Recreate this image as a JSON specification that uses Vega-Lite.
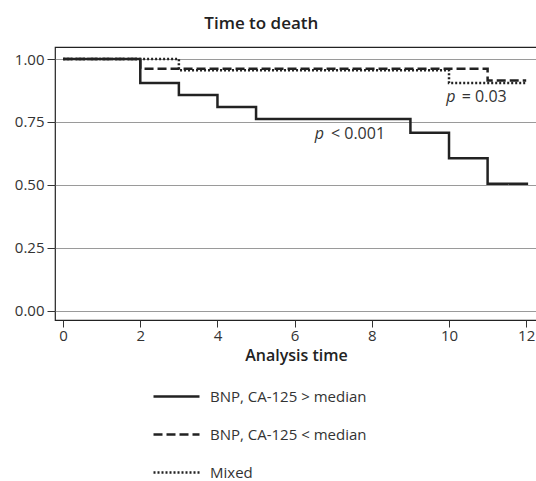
{
  "$schema": "https://vega.github.io/schema/vega-lite/v6.json",
  "autosize": "none",
  "width": 482,
  "height": 273,
  "padding": {"left": 55, "top": 47, "right": 0, "bottom": 161},
  "config": {
    "font": "Open Sans",
    "view": {"stroke": "#222", "strokeWidth": 1.2}
  },
  "title": {
    "text": "Time to death",
    "anchor": "start",
    "dx": 190,
    "offset": 14,
    "fontSize": 17,
    "fontWeight": 600,
    "color": "#222"
  },
  "datasets": {
    "curves": [
      {"group": "BNP, CA-125 < median", "time": 0, "survival": 1.0},
      {"group": "BNP, CA-125 < median", "time": 2, "survival": 0.962},
      {"group": "BNP, CA-125 < median", "time": 11, "survival": 0.915},
      {"group": "BNP, CA-125 < median", "time": 12, "survival": 0.915},
      {"group": "Mixed", "time": 0, "survival": 1.0},
      {"group": "Mixed", "time": 3, "survival": 0.956},
      {"group": "Mixed", "time": 10, "survival": 0.905},
      {"group": "Mixed", "time": 12, "survival": 0.905},
      {"group": "BNP, CA-125 > median", "time": 0, "survival": 1.0},
      {"group": "BNP, CA-125 > median", "time": 2, "survival": 0.905},
      {"group": "BNP, CA-125 > median", "time": 3, "survival": 0.857},
      {"group": "BNP, CA-125 > median", "time": 4, "survival": 0.81},
      {"group": "BNP, CA-125 > median", "time": 5, "survival": 0.762},
      {"group": "BNP, CA-125 > median", "time": 9, "survival": 0.707},
      {"group": "BNP, CA-125 > median", "time": 10, "survival": 0.606},
      {"group": "BNP, CA-125 > median", "time": 11, "survival": 0.505},
      {"group": "BNP, CA-125 > median", "time": 12.05, "survival": 0.505}
    ],
    "one": [{}]
  },
  "encoding": {
    "x": {
      "type": "quantitative",
      "scale": {"domain": [-0.21, 12.28], "nice": false, "zero": false},
      "axis": {
        "title": "Analysis time",
        "values": [0, 2, 4, 6, 8, 10, 12],
        "grid": false,
        "domain": false,
        "tickSize": 7,
        "tickColor": "#333",
        "labelFontSize": 15,
        "labelColor": "#333",
        "labelPadding": 1,
        "titleFontSize": 16,
        "titleFontWeight": 600,
        "titleColor": "#222",
        "titlePadding": 4
      }
    },
    "y": {
      "type": "quantitative",
      "scale": {"domain": [-0.037, 1.048], "nice": false, "zero": false},
      "axis": {
        "title": null,
        "values": [0, 0.25, 0.5, 0.75, 1],
        "format": ".2f",
        "grid": true,
        "gridColor": "#9a9a9a",
        "gridWidth": 1,
        "domain": false,
        "tickSize": 8,
        "tickColor": "#333",
        "labelFontSize": 15,
        "labelColor": "#333",
        "labelPadding": 3
      }
    }
  },
  "layer": [
    {
      "data": {"name": "curves"},
      "mark": {"type": "line", "interpolate": "step-after", "color": "#222", "strokeWidth": 2.5},
      "encoding": {
        "x": {"field": "time", "type": "quantitative"},
        "y": {"field": "survival", "type": "quantitative"},
        "strokeDash": {
          "field": "group",
          "type": "nominal",
          "scale": {
            "domain": ["BNP, CA-125 > median", "BNP, CA-125 < median", "Mixed"],
            "range": [[1, 0], [9, 4], [2, 2]]
          },
          "legend": {
            "title": null,
            "orient": "none",
            "legendX": 97,
            "legendY": 325,
            "direction": "vertical",
            "symbolType": "stroke",
            "symbolSize": 2116,
            "symbolStrokeWidth": 2.5,
            "symbolStrokeColor": "#222",
            "labelFontSize": 15,
            "labelColor": "#333",
            "labelOffset": 9,
            "rowPadding": 5
          }
        }
      }
    },
    {
      "data": {"name": "one"},
      "mark": {"type": "text", "fontStyle": "italic", "fontSize": 16, "align": "left", "baseline": "middle", "color": "#333"},
      "encoding": {"x": {"datum": 9.93}, "y": {"datum": 0.849}, "text": {"value": "p"}}
    },
    {
      "data": {"name": "one"},
      "mark": {"type": "text", "fontSize": 16, "align": "left", "baseline": "middle", "color": "#333"},
      "encoding": {"x": {"datum": 10.33}, "y": {"datum": 0.849}, "text": {"value": "= 0.03"}}
    },
    {
      "data": {"name": "one"},
      "mark": {"type": "text", "fontStyle": "italic", "fontSize": 16, "align": "left", "baseline": "middle", "color": "#333"},
      "encoding": {"x": {"datum": 6.52}, "y": {"datum": 0.702}, "text": {"value": "p"}}
    },
    {
      "data": {"name": "one"},
      "mark": {"type": "text", "fontSize": 16, "align": "left", "baseline": "middle", "color": "#333"},
      "encoding": {"x": {"datum": 6.94}, "y": {"datum": 0.702}, "text": {"value": "< 0.001"}}
    }
  ]
}
